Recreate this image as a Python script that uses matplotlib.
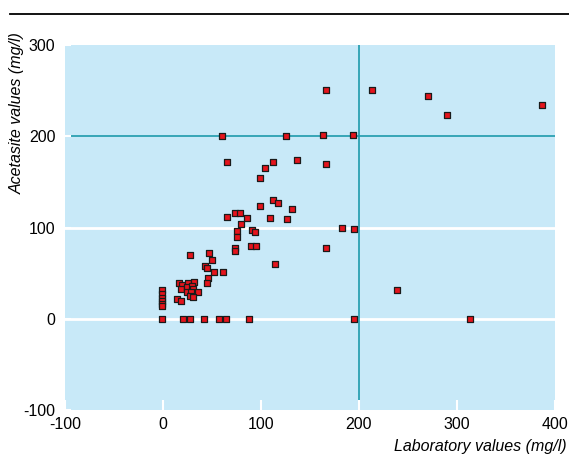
import numpy as np
from matplotlib import pyplot as plt
from matplotlib.lines import Line2D

# laboratory value (x) vs acetasite value (y), mg/l
lab = [-1, -1, -1, -1, -1, -1,
       -1, 20, 28, 42, 57, 64, 88, 195, 313,
       28, 46.6, 50, 43, 44.5, 52, 61, 45.5, 45,
       16, 19.7, 25, 32, 18.6, 24, 29.5, 30.2, 24.8, 28.8, 35.4, 27.5, 31, 14.6, 18.7,
       112.4, 117.2, 99, 132, 65.5, 73.7, 78.5, 85.6, 109.4, 126.7, 79.2, 75.1,
       91, 94.1, 75.4, 73.4, 73.4, 89.7, 94.5, 114,
       60, 126, 65.6, 112.6, 104, 137, 99.3,
       166, 213.6, 270.7, 290, 386.4, 163.6, 193.6, 166, 183, 195, 166, 239]
acet = [31.6, 27, 22.6, 19.3, 16.7, 14.5,
        0, 0, 0, 0, 0, 0, 0, 0, 0,
        69.4, 72, 64.3, 57.5, 55.3, 51.6, 51.6, 45, 39.3,
        39, 37.4, 39.6, 40, 32.4, 34.9, 35.7, 32.7, 29.8, 29.1, 29.8, 24.7, 23.6, 21.5, 19.6,
        130.5, 127.3, 123.2, 120.3, 112, 115.6, 116, 110.9, 110.9, 109, 104.3, 96.3,
        97.8, 95.2, 89.1, 77.4, 73.8, 79.3, 80, 60,
        200, 200, 172, 172, 165, 174, 154,
        250.5, 250.5, 244, 223, 234, 201, 201, 170, 99, 98, 77, 31]

ticks = [-100, 0, 100, 200, 300, 400]
yticks = [-100, 0, 100, 200, 300]

plt.rcParams['font.family'] = ['Liberation Sans', 'DejaVu Sans']
plt.rcParams['axes.unicode_minus'] = False

teal = '#1e9aac'
fig = plt.figure(figsize=(5.69, 4.59), dpi=100)
ax = fig.add_axes([65 / 569, 49 / 459, 490 / 569, 365 / 459])
ax.set_facecolor('#c8e9f8')

ax.axhline(0, color='white', lw=2, zorder=1)
ax.axhline(100, color='white', lw=2, zorder=1)
ax.axhline(200, color=teal, lw=1.2, zorder=1)
ax.axvline(200, color=teal, lw=1.2, zorder=1)

ax.scatter(lab, acet, marker='s', s=20, c='#e5141c', edgecolors='#1a1a1a',
           linewidths=0.9, zorder=3)

ax.set_xlim(-100, 400)
ax.set_ylim(-100, 300)
ax.set_xticks(ticks)
ax.set_yticks(yticks)
ax.tick_params(direction='in', width=1.5, color='white',
               labelsize=11.5)
ax.tick_params(axis='x', length=7, pad=5)
ax.tick_params(axis='y', length=4, pad=7)
for t in ax.xaxis.get_major_ticks():
    if t.get_loc() == 200:
        t.tick1line.set_color(teal)
for t in ax.yaxis.get_major_ticks():
    if t.get_loc() == 200:
        t.tick1line.set_color(teal)
for s in ax.spines.values():
    s.set_visible(False)

fig.text(17 / 569, 1 - 113 / 459, 'Acetasite values (mg/l)', rotation=90,
         ha='center', va='center', style='italic', fontsize=11.5)
fig.text(567 / 569, 1 - 447 / 459, 'Laboratory values (mg/l)',
         ha='right', va='center', style='italic', fontsize=11.5)

fig.add_artist(Line2D([10 / 569, 1], [1 - 14 / 459, 1 - 14 / 459],
                      color='black', lw=1.3, transform=fig.transFigure))

fig.savefig('out.png', dpi=100)
